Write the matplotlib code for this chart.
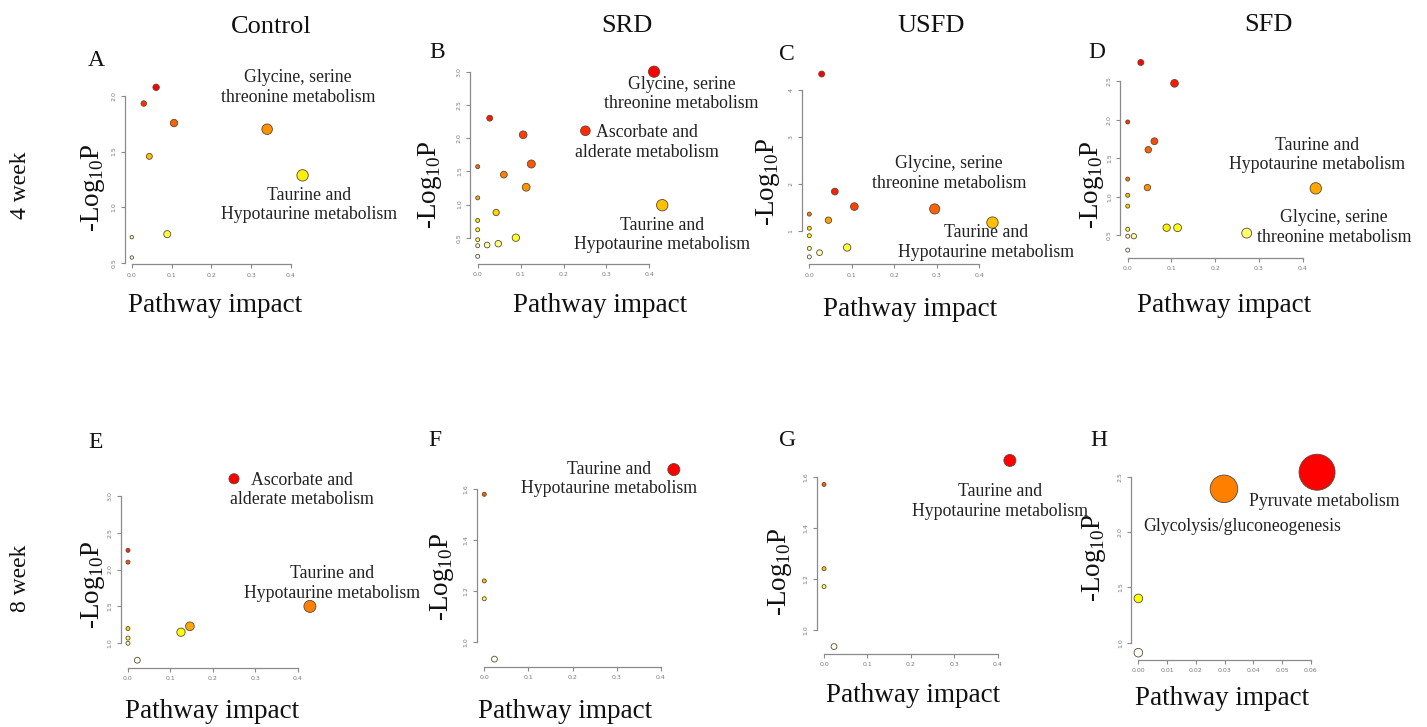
import matplotlib
matplotlib.use("Agg")
import matplotlib.pyplot as plt
import numpy as np
from matplotlib.colors import LinearSegmentedColormap

plt.rcParams['font.family'] = ['Liberation Serif', 'DejaVu Serif']
plt.rcParams['mathtext.fontset'] = 'custom'
plt.rcParams['mathtext.rm'] = 'Liberation Serif'

# pathway impact / -log10 p for each panel
a_impact = [0.061, 0.030, 0.106, 0.044, 0.340, 0.429, 0.089, 0.0, 0.0]
a_logp = [2.075, 1.93, 1.755, 1.457, 1.70, 1.287, 0.761, 0.734, 0.552]

b_impact = [0.411, 0.028, 0.106, 0.251, 0.125, 0.0, 0.061, 0.113, 0.0, 0.043,
            0.430, 0.0, 0.0, 0.0, 0.089, 0.048, 0.022, 0.0, 0.0]
b_logp = [3.0, 2.30, 2.05, 2.11, 1.61, 1.57, 1.45, 1.26, 1.10, 0.88,
          0.99, 0.76, 0.62, 0.47, 0.50, 0.41, 0.39, 0.38, 0.22]

c_impact = [0.029, 0.060, 0.106, 0.295, 0.431, 0.0, 0.045, 0.0, 0.0, 0.089, 0.0, 0.024, 0.0]
c_logp = [4.34, 1.84, 1.52, 1.47, 1.18, 1.36, 1.23, 1.06, 0.90, 0.65, 0.63, 0.54, 0.45]

d_impact = [0.030, 0.107, 0.0, 0.061, 0.047, 0.0, 0.045, 0.430, 0.0, 0.0,
            0.089, 0.114, 0.272, 0.0, 0.014, 0.0, 0.0]
d_logp = [2.74, 2.47, 1.97, 1.72, 1.61, 1.23, 1.12, 1.11, 1.02, 0.88,
          0.60, 0.60, 0.53, 0.58, 0.49, 0.49, 0.31]

e_impact = [0.25, 0.0, 0.0, 0.429, 0.146, 0.125, 0.0, 0.0, 0.0, 0.022]
e_logp = [3.23, 2.26, 2.10, 1.50, 1.23, 1.15, 1.20, 1.07, 1.00, 0.77]

f_impact = [0.429, 0.0, 0.0, 0.0, 0.023]
f_logp = [1.677, 1.58, 1.24, 1.17, 0.933]

g_impact = [0.428, 0.0, 0.0, 0.0, 0.023]
g_logp = [1.664, 1.57, 1.24, 1.17, 0.935]

h_impact = [0.0622, 0.0298, 0.0, 0.0]
h_logp = [2.54, 2.39, 1.40, 0.91]

impact_ticks = [0.0, 0.1, 0.2, 0.3, 0.4]
h_impact_ticks = [0.0, 0.01, 0.02, 0.03, 0.04, 0.05, 0.06]
a_yticks = [0.5, 1.0, 1.5, 2.0]
b_yticks = [0.5, 1.0, 1.5, 2.0, 2.5, 3.0]
c_yticks = [1, 2, 3, 4]
d_yticks = [0.5, 1.0, 1.5, 2.0, 2.5]
e_yticks = [1.0, 1.5, 2.0, 2.5, 3.0]
fg_yticks = [1.0, 1.2, 1.4, 1.6]
h_yticks = [1.0, 1.5, 2.0, 2.5]

col_titles = ["Control", "SRD", "USFD", "SFD"]
row_titles = ["4 week", "8 week"]

W, H = 1427, 727
fig = plt.figure(figsize=(W / 100, H / 100), dpi=100)
fig.patch.set_facecolor('white')

heat = LinearSegmentedColormap.from_list('heat', ['#ff0000', '#ff7f00', '#ffff00', '#fffff2'])


def px(x, y):
    return x / W, 1 - y / H


def panel(box, impact, logp, xticks, yticks, xfmt, yfmt, rmin, rmax):
    l, t, r, b = box
    ax = fig.add_axes([l / W, 1 - b / H, (r - l) / W, (b - t) / H])
    ax.patch.set_alpha(0)
    impact = np.array(impact)
    logp = np.array(logp)
    # colour by rank of -log p, size by impact
    rank = np.argsort(np.argsort(-logp))
    cols = heat(rank / (len(logp) - 1))
    rad = rmin + (rmax - rmin) * np.sqrt(impact / impact.max())
    ax.scatter(impact, logp, s=(2 * rad * 0.72) ** 2, c=cols,
               edgecolors='#5a4a3a', linewidths=0.6, clip_on=False, zorder=3)
    ax.margins(0.04)
    ax.set_xticks(xticks)
    ax.set_yticks(yticks)
    ax.set_xticklabels([xfmt.format(v) for v in xticks])
    ax.set_yticklabels([yfmt.format(v) for v in yticks], rotation=90, va='center')
    for s in ['top', 'right']:
        ax.spines[s].set_visible(False)
    ax.spines['left'].set_bounds(yticks[0], yticks[-1])
    ax.spines['bottom'].set_bounds(xticks[0], xticks[-1])
    for s in ['left', 'bottom']:
        ax.spines[s].set_color('#8a8a8a')
        ax.spines[s].set_linewidth(0.9)
    ax.tick_params(length=3, width=0.8, color='#8a8a8a', labelsize=4.5,
                   labelcolor='#7a7a7a', pad=3)
    for lab in ax.get_xticklabels() + ax.get_yticklabels():
        lab.set_family('DejaVu Sans')
    return ax


panel((125, 80.5, 309.4, 264.3), a_impact, a_logp, impact_ticks, a_yticks, '{:.1f}', '{:.1f}', 1.7, 5.7)
panel((470.3, 64.3, 669.6, 263.7), b_impact, b_logp, impact_ticks, b_yticks, '{:.1f}', '{:.1f}', 2.0, 5.7)
panel((802, 66.7, 999.8, 264.2), c_impact, c_logp, impact_ticks, c_yticks, '{:.1f}', '{:.0f}', 2.0, 5.7)
panel((1120.2, 55, 1323.3, 257.6), d_impact, d_logp, impact_ticks, d_yticks, '{:.1f}', '{:.1f}', 2.0, 5.7)
panel((120.7, 471.5, 317.2, 667.5), e_impact, e_logp, impact_ticks, e_yticks, '{:.1f}', '{:.1f}', 2.0, 6.0)
panel((476.7, 462, 681.4, 666.7), f_impact, f_logp, impact_ticks, fg_yticks, '{:.1f}', '{:.1f}', 2.0, 6.0)
panel((816.6, 453, 1017.3, 654), g_impact, g_logp, impact_ticks, fg_yticks, '{:.1f}', '{:.1f}', 2.0, 6.0)
panel((1131.2, 465, 1324.2, 659.9), h_impact, h_logp, h_impact_ticks, h_yticks, '{:.2f}', '{:.1f}', 4.3, 18.0)

# column and row headings
for name, (x, y) in zip(col_titles, [(271.7, 27), (626.7, 26), (931, 26), (1268, 25)]):
    fig.text(*px(x, y), name, fontsize=19, ha='center', va='center', color='#111111')
for name, (x, y) in zip(row_titles, [(20, 185), (20, 578)]):
    fig.text(*px(x, y), name, fontsize=17, rotation=90, ha='center', va='center', color='#111111')

# panel letters
letters = ['A', 'B', 'C', 'D', 'E', 'F', 'G', 'H']
letter_pos = [(96.7, 60), (436.7, 53), (786.7, 55), (1096.7, 53),
              (96, 443), (435, 440), (788, 440), (1099, 440)]
for t, (x, y) in zip(letters, letter_pos):
    fig.text(*px(x, y), t, fontsize=17, ha='center', va='center', color='#111111')

# axis titles
xlab_pos = [(215, 305), (600.5, 305), (910, 310), (1224, 306),
            (211.7, 711.7), (565, 711.7), (913.3, 695), (1221.7, 698.3)]
for x, y in xlab_pos:
    fig.text(*px(x, y), 'Pathway impact', fontsize=19.5, ha='center', va='center', color='#111111')
ylab_pos = [(93, 188), (430, 185), (768, 182), (1092, 185),
            (93, 585), (441.7, 577), (780, 572), (1094, 558)]
for x, y in ylab_pos:
    fig.text(*px(x, y), r'-Log$_{\mathrm{10}}$P', fontsize=19.5, rotation=90,
             ha='center', va='center', color='#111111')

# pathway annotations
notes = [
    ((298, 87.5), 'Glycine, serine\nthreonine metabolism'),
    ((309, 205), 'Taurine and\nHypotaurine metabolism'),
    ((681.7, 94), 'Glycine, serine\nthreonine metabolism'),
    ((646.5, 142.5), 'Ascorbate and\nalderate metabolism'),
    ((662, 235), 'Taurine and\nHypotaurine metabolism'),
    ((949, 173.5), 'Glycine, serine\nthreonine metabolism'),
    ((985.7, 242.5), 'Taurine and\nHypotaurine metabolism'),
    ((1317, 155), 'Taurine and\nHypotaurine metabolism'),
    ((1334, 227.5), 'Glycine, serine\nthreonine metabolism'),
    ((301.5, 490), 'Ascorbate and\nalderate metabolism'),
    ((331.7, 583.5), 'Taurine and\nHypotaurine metabolism'),
    ((609.3, 478.8), 'Taurine and\nHypotaurine metabolism'),
    ((1000, 501.5), 'Taurine and\nHypotaurine metabolism'),
    ((1324, 501), 'Pyruvate metabolism'),
    ((1242.3, 526.7), 'Glycolysis/gluconeogenesis'),
]
for (x, y), t in notes:
    fig.text(*px(x, y), t, fontsize=12.8, ha='center', va='center',
             color='#222222', linespacing=1.2)

fig.savefig('out.png', dpi=100)
